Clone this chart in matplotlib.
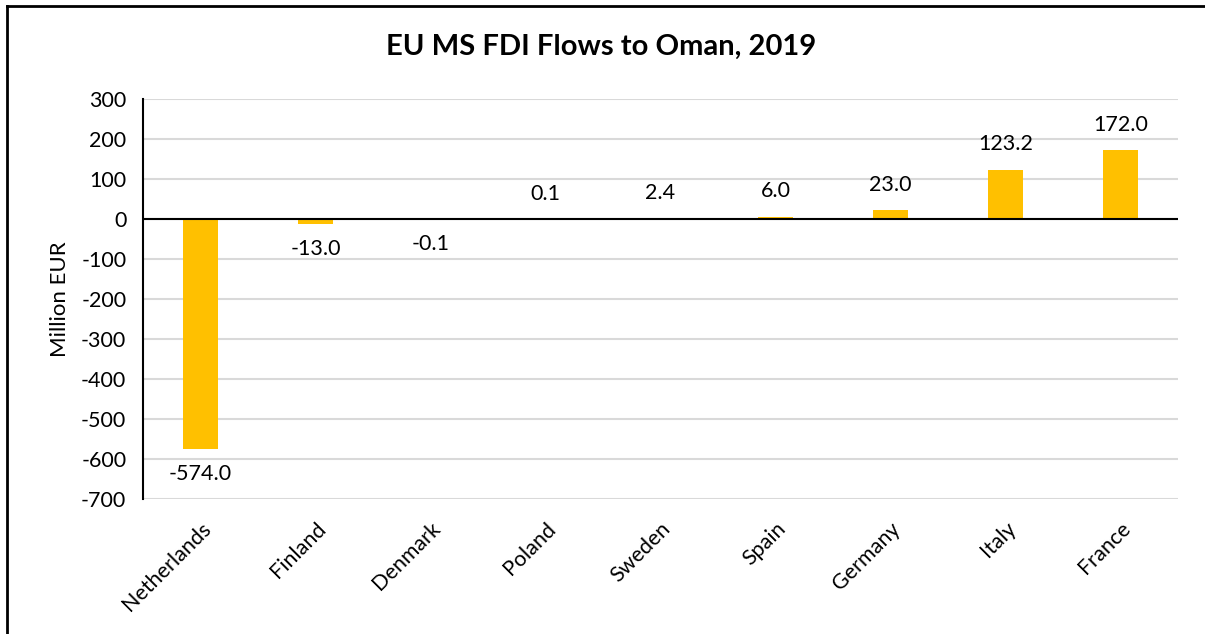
import matplotlib
matplotlib.use("Agg")
import matplotlib.pyplot as plt
from matplotlib.lines import Line2D

countries = ["Netherlands", "Finland", "Denmark", "Poland", "Sweden", "Spain", "Germany", "Italy", "France"]
values = [-574.0, -13.0, -0.1, 0.1, 2.4, 6.0, 23.0, 123.2, 172.0]
yticks = [300, 200, 100, 0, -100, -200, -300, -400, -500, -600, -700]

plt.rcParams['font.family'] = ['Lato', 'DejaVu Sans']

W, H = 1205, 634
fig = plt.figure(figsize=(W/100, H/100), dpi=100)
ax = fig.add_axes([143/W, 1-499/H, (1178-143)/W, 400/H])

x = list(range(len(countries)))
ax.bar(x, values, width=0.31, color="#FFC000", zorder=3)
ax.set_xlim(-0.5, len(countries)-0.5)
ax.set_ylim(-700, 300)
ax.set_yticks(yticks)
ax.set_yticklabels([str(t) for t in yticks], fontsize=15.5)
ax.yaxis.grid(True, color="#D9D9D9", linewidth=1.5, zorder=0)
ax.set_axisbelow(True)
ax.set_xticks(x)
ax.set_xticklabels(countries, rotation=45, ha="right", rotation_mode="anchor", fontsize=15.5)
ax.tick_params(axis="x", length=0, pad=14)
ax.tick_params(axis="y", length=0, pad=12)
for s in ["top", "right", "bottom"]:
    ax.spines[s].set_visible(False)
ax.spines["left"].set_linewidth(1.5)
ax.axhline(0, color="black", linewidth=1.5, zorder=4)
ax.set_ylabel("Million EUR", fontsize=16, labelpad=8)

for xi, v in zip(x, values):
    if v >= 0:
        ax.annotate(f"{v:.1f}", (xi, v), xytext=(0, 11), textcoords="offset points",
                    ha="center", va="bottom", fontsize=15.5)
    else:
        ax.annotate(f"{v:.1f}", (xi, v), xytext=(0, -11), textcoords="offset points",
                    ha="center", va="top", fontsize=15.5)

fig.text(601/W, 1-47/H, "EU MS FDI Flows to Oman, 2019", ha="center", va="center",
         fontsize=21, fontweight="bold")

fig.add_artist(Line2D([7/W, 7/W], [0, 1-6/H], color="black", linewidth=2, transform=fig.transFigure))
fig.add_artist(Line2D([7/W, 1], [1-6/H, 1-6/H], color="black", linewidth=2, transform=fig.transFigure))

fig.savefig("out.png", dpi=100)
